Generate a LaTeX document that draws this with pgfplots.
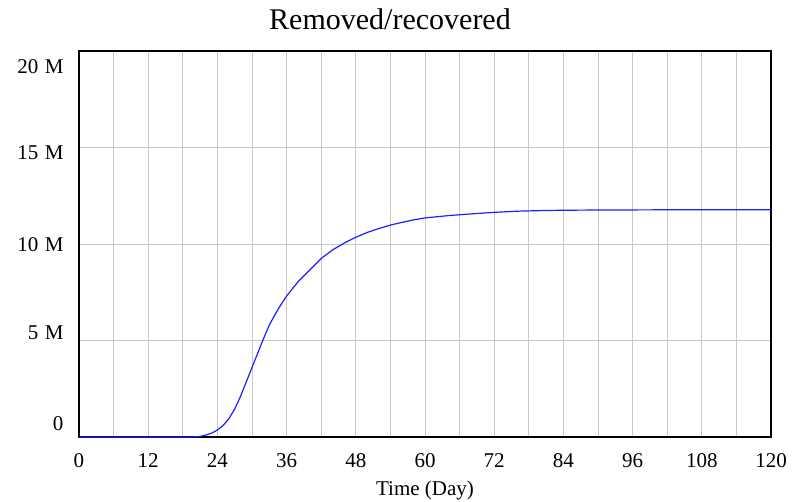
\documentclass[border=0pt]{standalone}
\usepackage{fontspec}
\setmainfont{Liberation Serif}
\usepackage{pgfplots}
\pgfplotsset{compat=1.18}

\definecolor{gridgray}{RGB}{200,200,200}
\definecolor{vblue}{RGB}{30,30,255}

\newcommand{\ylab}[2]{\smash{\raisebox{#1}{#2}}}

\begin{document}
\begin{tikzpicture}
\useasboundingbox (-79pt,-64pt) rectangle (713pt,437pt);
\begin{axis}[
    at={(0pt,0pt)}, anchor=south west,
    scale only axis,
    width=692pt, height=386pt,
    xmin=0, xmax=120,
    ymin=0, ymax=20,
    xtick={0,12,...,120},
    minor xtick={6,18,...,114},
    ytick={0,5,10,15,20},
    yticklabels={\ylab{7pt}{0},\ylab{1pt}{5\hspace{0.3em}M},\ylab{-7pt}{10\hspace{0.3em}M},\ylab{-12pt}{15\hspace{0.3em}M},\ylab{-23pt}{20\hspace{0.3em}M}},
    major tick length=0pt, minor tick length=0pt,
    xmajorgrids, xminorgrids, ymajorgrids,
    grid style={gridgray, line width=1pt},
    minor grid style={gridgray, line width=1pt},
    axis line style={black, line width=2.6pt},
    /pgf/number format/assume math mode=true,
    tick label style={font=\fontsize{21}{25}\selectfont},
    yticklabel style={xshift=-12pt},
    xticklabel style={yshift=-13pt},
    xlabel={Time (Day)},
    xlabel style={font=\fontsize{21}{25}\selectfont, yshift=-6pt},
    title={Removed/recovered},
    title style={font=\fontsize{30}{35}\selectfont, xshift=-35pt, yshift=12pt},
]
\addplot[vblue, line width=1.2pt] coordinates {
    (0,0) (20,0) (21,0.03) (22,0.1) (23,0.2) (24,0.36) (25,0.6)
    (26,0.95) (27,1.45) (28,2.1) (29,2.85) (30,3.6) (31,4.35)
    (32,5.1) (33,5.8) (34,6.35) (35,6.85) (36,7.3) (38,8.05)
    (40,8.65) (42,9.25) (44,9.7) (46,10.05) (48,10.35) (50,10.6)
    (52,10.8) (54,10.98) (56,11.12) (58,11.25) (60,11.35) (64,11.47)
    (68,11.56) (72,11.64) (76,11.7) (80,11.73) (84,11.75) (90,11.76)
    (100,11.77) (120,11.77)
};
\end{axis}
\end{tikzpicture}
\end{document}
